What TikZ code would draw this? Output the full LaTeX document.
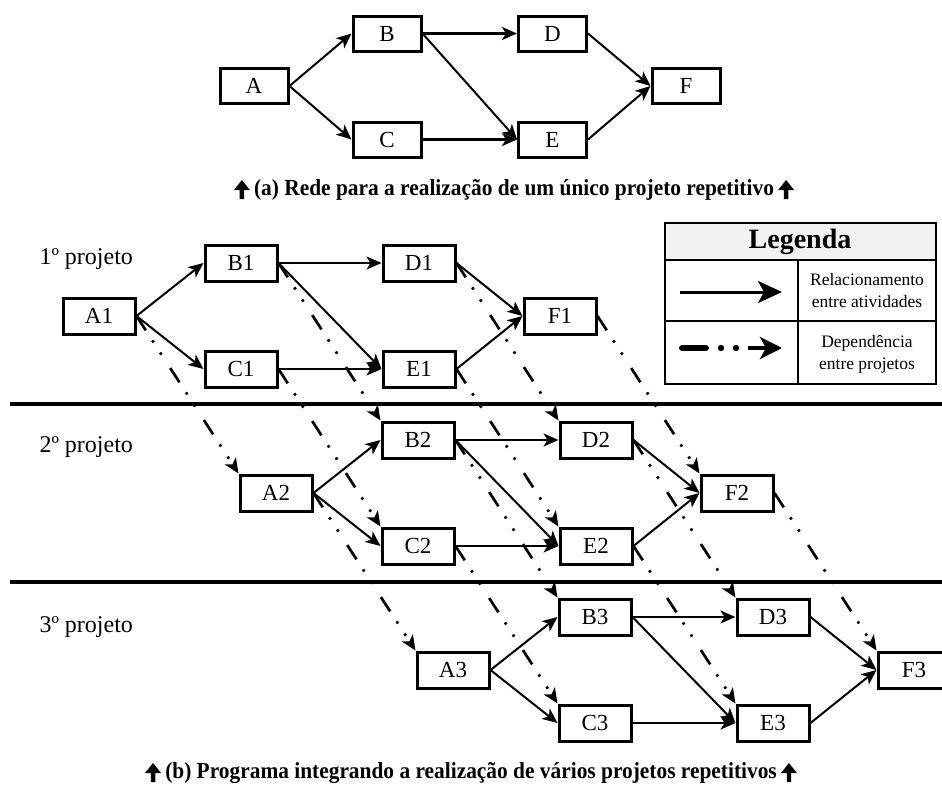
\documentclass[tikz,border=0pt]{standalone}
\usepackage{fontspec}
\setmainfont{Liberation Serif}
\usetikzlibrary{arrows.meta,calc}

\begin{document}
\begin{tikzpicture}[x=1pt,y=-1pt,
  act/.style={draw, line width=3pt, minimum width=68pt, minimum height=35pt,
    inner sep=0pt, font=\fontsize{23}{26}\selectfont},
  actb/.style={act, minimum width=72pt, minimum height=36pt},
  tip/.style={-{Stealth[length=15pt,width=13pt,inset=4pt]}},
  rel/.style={line width=2pt, tip},
  relthick/.style={line width=2.9pt, tip},
  dep/.style={line width=2.7pt, tip,
    dash pattern=on 17pt off 12pt on 2.5pt off 12pt on 2.5pt off 16pt},
  sep/.style={line width=3.4pt},
  lbl/.style={anchor=west, font=\fontsize{24}{27}\selectfont},
  captxt/.style={inner sep=0pt, font=\fontsize{23}{26}\selectfont\bfseries},
  legtxt/.style={align=center, font=\fontsize{17.5}{22}\selectfont},
  uparrow/.pic={\fill (-2.2,0) -- (-2.2,-9) -- (-8,-9) -- (0,-19) -- (8,-9)
    -- (2.2,-9) -- (2.2,0) -- cycle;}
]
\useasboundingbox (0,0) rectangle (942,796);

% ---- (a) single project network ----
\node[act] (A) at (254,86)    {A};
\node[act] (B) at (387,33.5)  {B};
\node[act] (C) at (387,139.5) {C};
\node[act] (D) at (552.5,33.5)  {D};
\node[act] (E) at (552.5,139.5) {E};
\node[act] (F) at (686,86)    {F};

\draw[rel] (A.east) -- (B.west);
\draw[rel] (A.east) -- (C.west);
\draw[relthick] (B.east) -- (D.west);
\draw[rel] (B.east) -- (E.west);
\draw[relthick] (C.east) -- (E.west);
\draw[rel] (D.east) -- (F.west);
\draw[rel] (E.east) -- (F.west);

\node[captxt] (capa) at (514,190) {\scalebox{0.93}[1]{(a) Rede para a realização de um único projeto repetitivo}};
\pic at ($(capa.west)+(-12,9)$) {uparrow};
\pic at ($(capa.east)+(12,9)$) {uparrow};

% ---- (b) three overlapping projects ----
\coordinate (s1l) at (10,404);  \coordinate (s1r) at (942,404);
\coordinate (s2l) at (10,582);  \coordinate (s2r) at (942,582);
\draw[sep] (s1l) -- (s1r);
\draw[sep] (s2l) -- (s2r);

\node[lbl] (p1) at (36,259) {1º projeto};
\node[lbl] (p2) at (36,447) {2º projeto};
\node[lbl] (p3) at (36,627) {3º projeto};

\foreach \k/\d in {1/0,2/177,3/354}{
  \node[actb] (A\k) at (99+\d,316+\d)  {A\k};
  \node[actb] (B\k) at (241+\d,263+\d) {B\k};
  \node[actb] (C\k) at (241+\d,369+\d) {C\k};
  \node[actb] (D\k) at (419+\d,263+\d) {D\k};
  \node[actb] (E\k) at (419+\d,369+\d) {E\k};
  \node[actb] (F\k) at (560+\d,316+\d) {F\k};
  \draw[rel] (A\k.east) -- (B\k.west);
  \draw[rel] (A\k.east) -- (C\k.west);
  \draw[rel] (B\k.east) -- (D\k.west);
  \draw[rel] (B\k.east) -- (E\k.west);
  \draw[rel] (C\k.east) -- (E\k.west);
  \draw[rel] (D\k.east) -- (F\k.west);
  \draw[rel] (E\k.east) -- (F\k.west);
}

\foreach \x in {A,B,C,D,E,F}{
  \draw[dep] (\x1.east) -- (\x2.north west);
  \draw[dep] (\x2.east) -- (\x3.north west);
}

% ---- legend ----
\fill[gray!10] (665,223) rectangle (936,260);
\draw[line width=1.6pt] (665,223) rectangle (936,384);
\draw[line width=1.4pt] (665,260) -- (936,260)
  (665,321) -- (936,321) (798,260) -- (798,384);
\node[font=\fontsize{28}{30}\selectfont\bfseries] (legt) at (800,241.5) {Legenda};
\draw[line width=3pt, -{Stealth[length=24pt,width=22pt,inset=6pt]}] (680,292) -- (782,292);
\draw[line width=6pt, line cap=round] (682,348) -- (706,348);
\fill (721,348) circle (3.2);
\fill (736,348) circle (3.2);
\draw[line width=4pt, -{Stealth[length=22pt,width=22pt,inset=6pt]}] (748,348) -- (782,348);
\node[legtxt] (l1) at (867,291) {Relacionamento\\entre atividades};
\node[legtxt] (l2) at (867,354) {Dependência\\entre projetos};

\node[captxt] (capb) at (471,773) {\scalebox{0.93}[1]{(b) Programa integrando a realização de vários projetos repetitivos}};
\pic at ($(capb.west)+(-12,9)$) {uparrow};
\pic at ($(capb.east)+(12,9)$) {uparrow};
\end{tikzpicture}
\end{document}
